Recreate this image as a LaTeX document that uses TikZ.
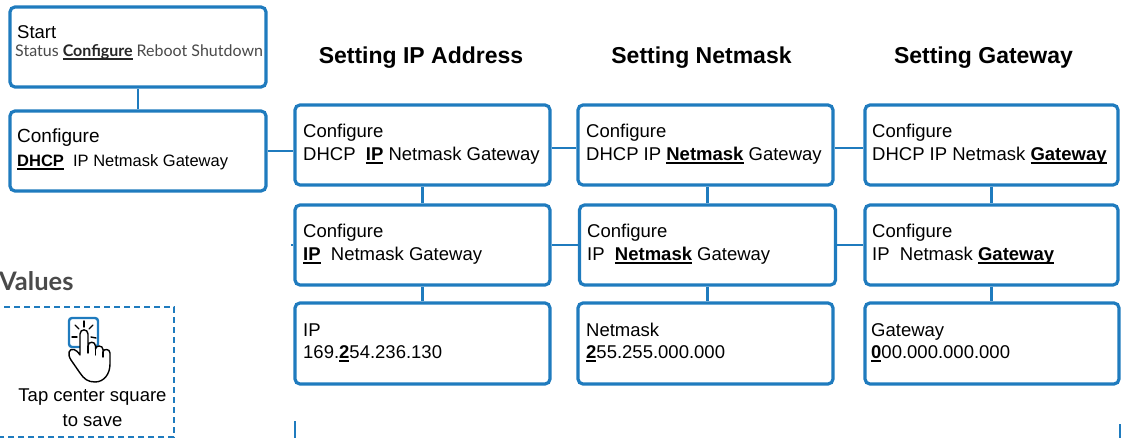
\documentclass[tikz,border=0pt]{standalone}
\usepackage{fontspec}
\setmainfont{Liberation Sans}
\newfontfamily\latofont{Lato}
\definecolor{boxblue}{HTML}{1F7BBE}
\definecolor{lgray}{HTML}{4A4A4A}
\newcommand\ulb[1]{\setbox0\hbox{\bfseries #1}\rlap{\rule[-2.6pt]{\wd0}{1.5pt}}\box0\relax}
\begin{document}
\begin{tikzpicture}[x=1pt,y=-1pt,
  box/.style={draw=boxblue, line width=3.2pt, rounded corners=5pt, minimum width=255pt, minimum height=80pt, inner sep=0pt, fill=white},
  link/.style={draw=boxblue, line width=2.2pt},
  txt/.style={anchor=base west, inner sep=0pt, font=\fontsize{18.5}{22}\selectfont},
  stxt/.style={anchor=base west, inner sep=0pt, font=\fontsize{16.5}{20}\selectfont},
  head/.style={anchor=base, inner sep=0pt, font=\fontsize{23}{27}\selectfont\bfseries},
  icon/.style={black, line width=1.4pt, line cap=round, line join=round}]
\useasboundingbox (0,0) rectangle (1125,438);

% boxes
\node[box, minimum width=256pt] (start) at (138,47) {};
\node[box, minimum width=256pt] (cfg) at (138,151) {};
\node[box] (ip1) at (422.5,145) {};
\node[box] (ip2) at (422.5,245) {};
\node[box, minimum height=81pt] (ip3) at (422.5,343.5) {};
\node[box] (nm1) at (705.5,145) {};
\node[box, minimum width=256pt] (nm2) at (707.5,245) {};
\node[box, minimum height=81pt] (nm3) at (705.5,343.5) {};
\node[box, minimum width=253pt] (gw1) at (991.5,145) {};
\node[box, minimum width=253pt] (gw2) at (991.5,245) {};
\node[box, minimum width=254pt, minimum height=81pt] (gw3) at (992,343.5) {};

% connectors
\coordinate (stub) at (291,245);
\draw[link] (start.south) -- (cfg.north);
\draw[link] (cfg.east) -- (cfg.east -| ip1.west);
\draw[link] ([yshift=-3pt]ip1.east) -- ([yshift=-3pt]nm1.west);
\draw[link] ([yshift=-3pt]nm1.east) -- ([yshift=-3pt]gw1.west);
\draw[link] (ip2.east) -- (nm2.west);
\draw[link] (nm2.east) -- (gw2.west);
\draw[link] (ip2.west) -- (stub);
\draw[link] (ip1.south) -- (ip2.north);
\draw[link] (ip2.south) -- (ip3.north);
\draw[link] (nm2.north) -- (nm2.north |- nm1.south);
\draw[link] (nm2.south) -- (nm2.south |- nm3.north);
\draw[link] (gw1.south) -- (gw2.north);
\draw[link] (gw2.south) -- (gw2.south |- gw3.north);

% bottom frame fragments
\coordinate (fa) at (295,421);
\coordinate (fb) at (295,440);
\coordinate (fc) at (1120,424);
\coordinate (fd) at (1120,440);
\draw[boxblue, line width=2pt] (fa) -- (fb);
\draw[boxblue, line width=2pt] (fc) -- (fd);

% headings
\node[head] (h1) at (421,64) {Setting IP Address};
\node[head] (h2) at (701.5,64) {Setting Netmask};
\node[head] (h3) at (983.5,64) {Setting Gateway};

% start box text
\node[anchor=base west, inner sep=0pt, font=\fontsize{18.5}{22}\selectfont] (st1) at (17,39) {Start};
\node[anchor=base west, inner sep=0pt, font=\fontsize{16}{19}\latofont, text=lgray] (st2) at (15,57) {Status {\color{black!85}\ulb{Configure}} Reboot Shutdown};

% left configure box
\node[anchor=base west, inner sep=0pt, font=\fontsize{19}{22}\selectfont] (c1) at (17,143) {Configure};
\node[stxt] (c2) at (17,167) {\ulb{DHCP}\ \ IP Netmask Gateway};

% IP column
\node[txt] (ip1a) at (303,138) {Configure};
\node[txt] (ip1b) at (303,161) {DHCP\ \ \ulb{IP} Netmask Gateway};
\node[txt] (ip2a) at (303,238) {Configure};
\node[txt] (ip2b) at (303,261) {\ulb{IP}\ \ Netmask Gateway};
\node[txt] (ip3a) at (303,337) {IP};
\node[txt] (ip3b) at (303,359) {169.\ulb{2}54.236.130};

% Netmask column
\node[txt] (nm1a) at (586,138) {Configure};
\node[txt] (nm1b) at (586,161) {DHCP IP \ulb{Netmask} Gateway};
\node[txt] (nm2a) at (587,238) {Configure};
\node[txt] (nm2b) at (587,261) {IP\ \ \ulb{Netmask} Gateway};
\node[txt] (nm3a) at (586,337) {Netmask};
\node[txt] (nm3b) at (586,359) {\ulb{2}55.255.000.000};

% Gateway column
\node[txt] (gw1a) at (872,138) {Configure};
\node[txt] (gw1b) at (872,161) {DHCP IP Netmask \ulb{Gateway}};
\node[txt] (gw2a) at (872,238) {Configure};
\node[txt] (gw2b) at (872,261) {IP\ \ Netmask \ulb{Gateway}};
\node[txt] (gw3a) at (871,337) {Gateway};
\node[txt] (gw3b) at (871,359) {\ulb{0}00.000.000.000};

% Values panel
\node[anchor=base west, inner sep=0pt, font=\fontsize{25.5}{30}\latofont\bfseries, text=lgray] (vals) at (-1,291) {Values};
\draw[boxblue, line width=2.5pt, dash pattern=on 6pt off 4pt] (-6,307) -- (174,307) -- (174,437) -- (-6,437);
\draw[boxblue, line width=2.4pt, rounded corners=3pt] (69,318) rectangle (98,347);
\draw[icon] (84,321) -- (84,327);
\draw[icon] (75,325) -- (79,329);
\draw[icon] (93,325) -- (89,329);
\draw[icon] (72,337) -- (77,337);
\draw[icon] (91,337) -- (96,338);
\draw[icon, fill=white]
 (80,354) -- (80,334) .. controls (80,328.5) and (88,328.5) .. (88,334) -- (88,346)
 .. controls (88,341) and (95.5,341) .. (95.5,346) -- (95.5,349)
 .. controls (95.5,345) and (103,345) .. (103,349.5) -- (103,352)
 .. controls (103,348.5) and (110,348.5) .. (110,353) -- (110,364)
 .. controls (110,374) and (104,382) .. (95,382)
 .. controls (88,382) and (84,379) .. (80,373)
 -- (71,360)
 .. controls (67,354) and (69,348) .. (74,349.5)
 .. controls (76,350) and (78,352) .. (80,355);
\draw[icon] (88,346) -- (88,353);
\draw[icon] (95.5,349) -- (95.5,355);
\draw[icon] (103,352) -- (103,357);
\node[anchor=base, inner sep=0pt, font=\fontsize{18.5}{22}\selectfont] (tap1) at (92.5,402) {Tap center square};
\node[anchor=base, inner sep=0pt, font=\fontsize{18.5}{22}\selectfont] (tap2) at (92.5,426) {to save};
\end{tikzpicture}
\end{document}
